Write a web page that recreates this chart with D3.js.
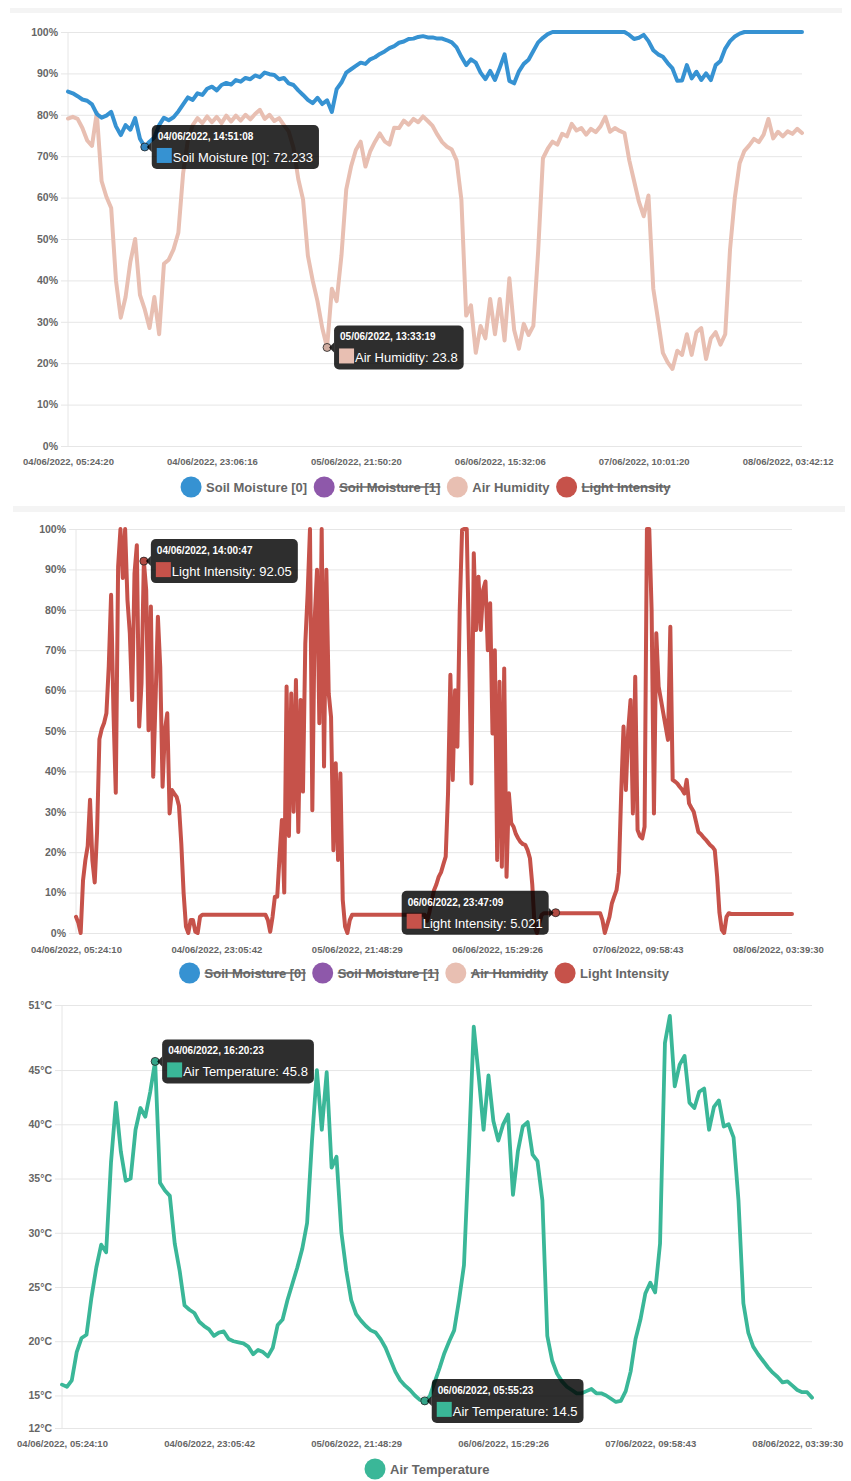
<!DOCTYPE html>
<html>
<head>
<meta charset="utf-8">
<script src="https://cdn.jsdelivr.net/npm/d3@7"></script>
<style>
  body { margin: 0; background: #fff; }
  svg { display: block; font-family: "Liberation Sans", Arial, Helvetica, sans-serif; }
</style>
</head>
<body>
<svg id="chart" width="851" height="1481"></svg>
<script>
const BLUE = "#3692d2", PURPLE = "#8e58aa", PINK = "#e8bfb2", RED = "#c6524a", TEAL = "#3ab798";

const labelsA = ["04/06/2022, 05:24:20", "04/06/2022, 23:06:16", "05/06/2022, 21:50:20",
    "06/06/2022, 15:32:06", "07/06/2022, 10:01:20", "08/06/2022, 03:42:12"];
const labelsB = ["04/06/2022, 05:24:10", "04/06/2022, 23:05:42", "05/06/2022, 21:48:29",
    "06/06/2022, 15:29:26", "07/06/2022, 09:58:43", "08/06/2022, 03:39:30"];
const percentTicks = [0, 10, 20, 30, 40, 50, 60, 70, 80, 90, 100];
const tempTicks = [12, 15, 20, 25, 30, 35, 40, 45, 51];
const legendNames = ["Soil Moisture [0]", "Soil Moisture [1]", "Air Humidity", "Light Intensity"];

// readings, evenly spaced between the first and last timestamp
const soilMoisture0 = [
    85.6, 85.2, 84.5, 83.7, 83.4, 82.5, 80.2, 79.3, 79.8, 80.7,
    77.2, 75.1, 77.5, 76.4, 79.2, 74.2, 72.233, 73.5, 74.5, 77.5,
    79.3, 78.7, 79.4, 80.8, 82.5, 84.2, 83.6, 85.2, 84.8, 86.3,
    86.8, 85.9, 87.2, 87.7, 87.3, 88.4, 88, 88.9, 88.6, 89.5,
    89.1, 90.2, 89.8, 89.6, 88.6, 88.9, 87.6, 87.2, 85.9, 84.8,
    83.6, 82.8, 84.1, 82.6, 83.5, 80.7, 86.2, 87.8, 90.2, 91,
    91.8, 92.6, 92.3, 93.4, 93.9, 94.7, 95.3, 96.1, 96.6, 97.4,
    97.7, 98.3, 98.4, 98.8, 99, 98.7, 98.7, 98.4, 98.4, 98,
    97.5, 96.3, 94, 92, 93.4, 92.6, 90.2, 88.6, 90.6, 88.4,
    91.4, 94.6, 88.2, 87.6, 90.5, 92.3, 93.3, 95.4, 97.5, 98.6,
    99.5, 100, 100, 100, 100, 100, 100, 100, 100, 100,
    100, 100, 100, 100, 100, 100, 100, 99.3, 98.3, 98.6,
    99.3, 97.8, 95.6, 94.6, 94, 92.5, 91.2, 88.2, 88.3, 92,
    88.8, 90.4, 88.4, 90, 88.4, 92, 93, 96, 97.8, 98.9,
    99.6, 100, 100, 100, 100, 100, 100, 100, 100, 100,
    100, 100, 100, 100
];
const airHumidity = [
    79.1, 79.5, 79, 76.8, 73.8, 72.5, 80.5, 64, 60.2, 57.5,
    40, 31, 36, 44.5, 50, 36.5, 33, 28.5, 36, 27,
    44, 45, 47.5, 51.5, 65.9, 74, 77.5, 79.2, 78, 79.6,
    78.2, 79.5, 78, 79.8, 78.4, 79.8, 78.6, 80, 78.9, 80.2,
    81.2, 79, 80, 78.5, 79.2, 77.5, 76, 72, 64.5, 59.5,
    46, 40, 35, 28.5, 23.8, 38, 35, 46, 62, 67.5,
    71.5, 73.5, 67.5, 71.2, 73.5, 75.5, 73.6, 72.8, 76.9, 76.8,
    78.6, 77.6, 79, 78.2, 79.6, 78.5, 77.3, 75.2, 73.4, 72.3,
    71.6, 69, 59.5, 31.5, 34, 22.5, 29, 26, 35.5, 27,
    35.5, 25.5, 40.5, 28, 23.5, 29.5, 26.8, 29, 47, 69.5,
    71.8, 73.5, 72.8, 75.4, 74.8, 77.8, 76.2, 76.8, 75.2, 76.6,
    75.8, 77.2, 79.5, 75.9, 76.8, 76.1, 75.6, 69, 64, 59,
    55.5, 60.5, 38, 30.4, 22.5, 20.2, 18.6, 23, 22, 27,
    22, 27.5, 28.5, 21, 26, 27.5, 24.5, 27, 47.5, 60,
    68.3, 71.3, 72.6, 74.2, 73.4, 75.2, 79, 74.3, 75.9, 74.8,
    76, 75.4, 76.6, 75.6
];
const lightIntensity = [
    4, 2.5, 0, 13, 18, 21.5, 33, 18, 12.5, 25,
    48, 50.5, 52, 54.4, 66, 83.7, 55, 34.7, 90.7, 100,
    87.9, 100, 82.4, 74.2, 57.7, 89, 96, 51.1, 61.8, 92.05,
    84.9, 50.2, 80.8, 38.7, 57.7, 78.3, 65.9, 36.2, 50.2, 54.4,
    29.6, 35.4, 34.5, 33.7, 31.5, 22.2, 9.8, 1.6, 0, 3.2,
    3.2, 0.3, 0, 4, 4.5, 4.5, 4.5, 4.5, 4.5, 4.5,
    4.5, 4.5, 4.5, 4.5, 4.5, 4.5, 4.5, 4.5, 4.5, 4.5,
    4.5, 4.5, 4.5, 4.5, 4.5, 4.5, 4.5, 4.5, 4.5, 4.5,
    4.5, 4.5, 3.2, 0.3, 4, 9, 9, 19, 28, 10,
    61, 24, 59.3, 30, 62.6, 25, 57.7, 35, 71.7, 84.1,
    100, 30.4, 77.5, 89.9, 51.9, 100, 41.2, 89.9, 59.3, 53.5,
    20.5, 42, 18.1, 39.5, 8.2, 1.6, 0, 3.2, 4.5, 4.5,
    4.5, 4.5, 4.5, 4.5, 4.5, 4.5, 4.5, 4.5, 4.5, 4.5,
    4.5, 4.5, 4.5, 4.5, 4.5, 4.5, 4.5, 4.5, 4.5, 4.5,
    4.5, 4.5, 4.5, 4.5, 4.5, 4.5, 4.5, 4.5, 4.5, 4.5,
    3, 5, 8, 10.6, 12, 13.9, 15, 17, 18.9, 34.6,
    63.9, 37.9, 60.1, 46.1, 80, 99.8, 100, 100, 69.6, 37,
    94, 75, 88.2, 75, 84.9, 87, 70, 81.6, 49.4, 70,
    18.1, 62.2, 16.4, 65.5, 13.9, 34.6, 27.2, 26.3, 24.5, 23.4,
    22.5, 22, 21.8, 20.5, 18.5, 12, 1.6, 0, 2.5, 4.5,
    4.9, 4.9, 4.9, 4.9, 4.9, 5.021, 4.9, 4.9, 4.9, 4.9,
    4.9, 4.9, 4.9, 4.9, 4.9, 4.9, 4.9, 4.9, 4.9, 4.9,
    4.9, 4.9, 4.9, 4.9, 4.9, 3.2, 0, 2, 4, 7.3,
    9, 10.6, 15, 34.6, 51.1, 35.4, 50.2, 57.7, 29.6, 63.4,
    25.5, 24, 23.4, 26.3, 100, 100, 80, 29.6, 74.2, 61,
    57.7, 54.4, 51.1, 47.8, 75.8, 37.9, 37.5, 37, 36.2, 35.5,
    34.5, 37.9, 32.1, 31, 30, 27.5, 25, 24.5, 23.8, 23.2,
    22.5, 21.8, 21.3, 20.5, 14, 5, 0.8, 0, 4, 4.9,
    4.7, 4.7, 4.7, 4.7, 4.7, 4.7, 4.7, 4.7, 4.7, 4.7,
    4.7, 4.7, 4.7, 4.7, 4.7, 4.7, 4.7, 4.7, 4.7, 4.7,
    4.7, 4.7, 4.7, 4.7, 4.7, 4.7, 4.7
];
const airTemperature = [
    16, 15.8, 16.4, 19, 20.3, 20.6, 24, 26.8, 28.9, 28.2,
    36.5, 42, 37.5, 34.8, 35, 39.5, 41.5, 40.7, 43, 45.8,
    34.6, 33.9, 33.4, 29, 26.5, 23.3, 22.9, 22.6, 21.8, 21.4,
    21.1, 20.5, 20.8, 20.9, 20.2, 20, 19.9, 19.8, 19.5, 18.8,
    19.2, 19, 18.6, 19.4, 21.5, 22, 23.8, 25.3, 26.8, 28.5,
    30.9, 38.5, 45, 39.5, 44.8, 36, 37, 30, 26.5, 23.8,
    22.5, 21.9, 21.4, 21, 20.8, 20.2, 19.4, 18.3, 17.2, 16.4,
    15.9, 15.5, 15, 14.6, 14.5, 14.9, 16.2, 17.5, 18.9, 20,
    21, 23.8, 27, 37.5, 49, 44.5, 39.5, 44.5, 40.3, 38.5,
    40, 40.9, 33.5, 37.5, 39.8, 40.2, 37.2, 36.6, 33, 20.5,
    18.2, 17, 16.3, 15.8, 15.5, 15.2, 15.2, 15.4, 15.6, 15.2,
    15.2, 15, 14.7, 14.4, 14.5, 15.4, 17.2, 20.2, 22, 24.4,
    25.4, 24.5, 29, 47.5, 50, 43.5, 45.5, 46.3, 42, 41.5,
    43, 43.3, 39.5, 41.6, 42.2, 39.8, 40, 38.8, 33, 23.5,
    20.8, 19.5, 18.8, 18.2, 17.6, 17.1, 16.7, 16.2, 16.3, 15.9,
    15.5, 15.3, 15.3, 14.8
];

// hovered readings shown in tooltips
const hoverTips = [
    { panel: 0, series: 1, index: 16, title: "04/06/2022, 14:51:08", name: "Soil Moisture [0]" },
    { panel: 0, series: 0, index: 54, title: "05/06/2022, 13:33:19", name: "Air Humidity" },
    { panel: 1, series: 0, index: 29, title: "04/06/2022, 14:00:47", name: "Light Intensity" },
    { panel: 1, series: 0, index: 205, title: "06/06/2022, 23:47:09", name: "Light Intensity", left: true },
    { panel: 2, series: 0, index: 19, title: "04/06/2022, 16:20:23", name: "Air Temperature" },
    { panel: 2, series: 0, index: 74, title: "06/06/2022, 05:55:23", name: "Air Temperature" }
];

const svg = d3.select("#chart");
svg.append("rect").attr("width", 851).attr("height", 1481).attr("fill", "#fff");
svg.append("rect").attr("x", 10).attr("y", 8).attr("width", 832).attr("height", 5).attr("fill", "#f4f4f4");
svg.append("rect").attr("x", 13).attr("y", 506).attr("width", 832).attr("height", 6).attr("fill", "#f4f4f4");

const panels = [
    {
        x0: 68, x1: 802, top: 32, bottom: 446, yDomain: [0, 100], yTicks: percentTicks, unit: "%",
        labels: labelsA, every: 30, labelPad: 12,
        series: [
            { data: airHumidity, color: PINK, width: 4 },
            { data: soilMoisture0, color: BLUE, width: 4 }
        ],
        legend: [
            { name: legendNames[0], color: BLUE },
            { name: legendNames[1], color: PURPLE, hidden: true },
            { name: legendNames[2], color: PINK },
            { name: legendNames[3], color: RED, hidden: true }
        ],
        legendX: 425.5, legendY: 487
    },
    {
        x0: 76, x1: 792, top: 529, bottom: 933, yDomain: [0, 100], yTicks: percentTicks, unit: "%",
        labels: labelsB, every: 60, labelPad: 13,
        series: [{ data: lightIntensity, color: RED, width: 4 }],
        legend: [
            { name: legendNames[0], color: BLUE, hidden: true },
            { name: legendNames[1], color: PURPLE, hidden: true },
            { name: legendNames[2], color: PINK, hidden: true },
            { name: legendNames[3], color: RED }
        ],
        legendX: 424, legendY: 973
    },
    {
        x0: 62, x1: 812, top: 1005, bottom: 1428, yDomain: [12, 51], yTicks: tempTicks, unit: "°C",
        labels: labelsB, every: 30, labelPad: 12.5,
        series: [{ data: airTemperature, color: TEAL, width: 3.8 }],
        legend: [{ name: "Air Temperature", color: TEAL }],
        legendX: 427, legendY: 1469
    }
];

function drawPanel(p) {
    const g = svg.append("g");
    const n = p.series[0].data.length;
    const x = d3.scaleLinear().domain([0, n - 1]).range([p.x0, p.x1]);
    const y = d3.scaleLinear().domain(p.yDomain).range([p.bottom, p.top]);

    const yAxis = g.append("g")
        .attr("transform", `translate(${p.x0 - 7}, 0)`)
        .call(d3.axisLeft(y).tickValues(p.yTicks).tickFormat(d => d + p.unit)
            .tickSize(-(p.x1 - p.x0 + 7)).tickPadding(3));
    yAxis.attr("font-family", null).attr("font-size", 10.5).attr("font-weight", "bold");
    yAxis.select(".domain").remove();
    yAxis.selectAll("line").attr("stroke", "#e6e6e6");
    yAxis.selectAll("text").attr("fill", "#666");

    g.append("line")
        .attr("x1", p.x0).attr("x2", p.x0)
        .attr("y1", p.top).attr("y2", p.bottom)
        .attr("stroke", "#e6e6e6");

    const xAxis = g.append("g")
        .attr("transform", `translate(0, ${p.bottom})`)
        .call(d3.axisBottom(x).tickValues(d3.range(0, n, p.every)).tickFormat((d, i) => p.labels[i])
            .tickSize(0).tickPadding(p.labelPad));
    xAxis.attr("font-family", null).attr("font-size", 9.5).attr("font-weight", "bold");
    xAxis.select(".domain").remove();
    xAxis.selectAll("text").attr("fill", "#666");

    const line = d3.line().x((d, i) => x(i)).y(d => y(d));
    for (const s of p.series) {
        g.append("path")
            .datum(s.data)
            .attr("fill", "none")
            .attr("stroke", s.color)
            .attr("stroke-width", s.width)
            .attr("stroke-linejoin", "round")
            .attr("stroke-linecap", "round")
            .attr("d", line);
    }

    drawLegend(p.legend, p.legendX, p.legendY);
    return { x, y };
}

function drawLegend(items, cx, cy) {
    const lg = svg.append("g").attr("font-size", 13).attr("font-weight", "bold");
    let pos = 0;
    for (const it of items) {
        lg.append("circle").attr("cx", pos + 10.5).attr("cy", cy).attr("r", 10.5).attr("fill", it.color);
        const t = lg.append("text")
            .attr("x", pos + 25.5).attr("y", cy + 4.5)
            .attr("fill", "#666")
            .text(it.name);
        const w = t.node().getComputedTextLength();
        if (it.hidden) {
            lg.append("line")
                .attr("x1", pos + 25.5).attr("x2", pos + 25.5 + w)
                .attr("y1", cy).attr("y2", cy)
                .attr("stroke", "#666").attr("stroke-width", 1.5);
        }
        pos += 25.5 + w + 6.5;
    }
    lg.attr("transform", `translate(${cx - (pos - 6.5) / 2}, 0)`);
}

function drawTip(px, py, title, body, color, left) {
    const tip = svg.append("g");
    tip.append("circle").attr("cx", px).attr("cy", py).attr("r", 4)
        .attr("fill", d3.color(color).darker(0.3)).attr("stroke", "#222").attr("stroke-width", 0.8);
    const box = tip.append("g");
    const t1 = box.append("text").attr("font-size", 10).attr("font-weight", "bold").attr("fill", "#fff").text(title);
    const t2 = box.append("text").attr("font-size", 13).attr("fill", "#fff").text(body);
    const w = Math.max(t1.node().getComputedTextLength() + 12, t2.node().getComputedTextLength() + 27);
    const h = 44;
    const bx = left ? px - 7 - w : px + 7;
    const by = py - h / 2;
    box.insert("rect", "text")
        .attr("x", bx).attr("y", by).attr("width", w).attr("height", h).attr("rx", 5)
        .attr("fill", "rgba(0,0,0,0.82)");
    const edge = left ? bx + w : bx;
    const dir = left ? 1 : -1;
    box.insert("path", "text")
        .attr("d", `M${edge},${py - 5}L${edge + dir * 5},${py}L${edge},${py + 5}Z`)
        .attr("fill", "rgba(0,0,0,0.82)");
    t1.attr("x", bx + 6).attr("y", by + 15);
    box.append("rect").attr("x", bx + 5).attr("y", by + 23).attr("width", 15).attr("height", 15).attr("fill", color);
    t2.attr("x", bx + 21).attr("y", by + 37);
}

const scales = panels.map(drawPanel);

for (const tip of hoverTips) {
    const p = panels[tip.panel];
    const s = p.series[tip.series];
    const { x, y } = scales[tip.panel];
    const v = s.data[tip.index];
    drawTip(x(tip.index), y(v), tip.title, `${tip.name}: ${v}`, s.color, tip.left);
}
</script>
</body>
</html>
